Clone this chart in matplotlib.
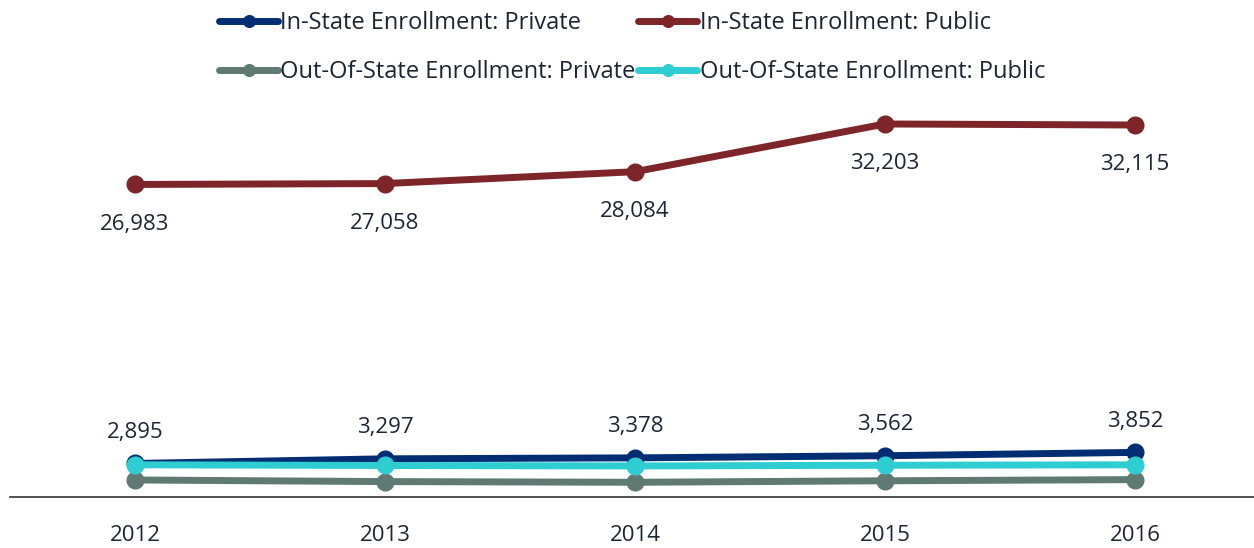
import matplotlib.pyplot as plt
from matplotlib.ticker import NullLocator

plt.rcParams['font.family'] = ['Open Sans', 'DejaVu Sans']

years = ['2012', '2013', '2014', '2015', '2016']
in_private = [2895, 3297, 3378, 3562, 3852]
in_public = [26983, 27058, 28084, 32203, 32115]
out_private = [1470, 1330, 1270, 1400, 1500]
out_public = [2780, 2720, 2680, 2740, 2780]

text_color = '#1c2533'
series = [
    ('In-State Enrollment: Private', in_private, '#012e73'),
    ('In-State Enrollment: Public', in_public, '#7d2528'),
    ('Out-Of-State Enrollment: Private', out_private, '#5e7a73'),
    ('Out-Of-State Enrollment: Public', out_public, '#2ecdd2'),
]

fig = plt.figure(figsize=(12.54, 5.48), dpi=100)
ax = fig.add_axes([10 / 1254, 51 / 548, 1244 / 1254, 417 / 548])

x = list(range(len(years)))
lines = []
for name, vals, col in series:
    ln, = ax.plot(x, vals, color=col, lw=5, marker='o', ms=12, label=name,
                  solid_capstyle='round', zorder=3)
    lines.append(ln)

# data labels: public below, private above
for i, v in enumerate(in_public):
    ax.annotate(f'{v:,}', (i, v), xytext=(0, -28.5), textcoords='offset points',
                ha='center', va='center', fontsize=16, color=text_color)
for i, v in enumerate(in_private):
    ax.annotate(f'{v:,}', (i, v), xytext=(0, 22.5), textcoords='offset points',
                ha='center', va='center', fontsize=16, color=text_color)

ax.set_xlim(-0.5, 4.476)
ax.set_ylim(0, 36000)
ax.set_xticks(x)
ax.set_xticklabels(years, fontsize=16, color=text_color)
ax.tick_params(axis='x', length=0, pad=20)
ax.yaxis.set_major_locator(NullLocator())
for s in ['top', 'right', 'left']:
    ax.spines[s].set_visible(False)
ax.spines['bottom'].set_color('#333333')
ax.spines['bottom'].set_linewidth(1.2)

# legend fills column-first, so reorder to get row-wise layout
order = [0, 2, 1, 3]
fig.legend([lines[i] for i in order], [series[i][0] for i in order],
           loc='upper center', bbox_to_anchor=(0.504, 0.997), ncol=2, frameon=False,
           fontsize=17, handlelength=2.5, handletextpad=0.1, columnspacing=0.1,
           labelspacing=1.05, labelcolor=text_color, borderaxespad=0.0,
           markerscale=0.7)

fig.savefig('out.png', dpi=100)
